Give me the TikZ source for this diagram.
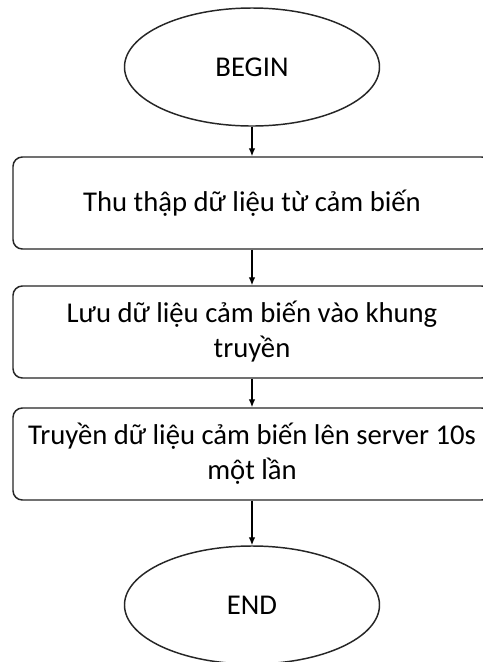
\documentclass[tikz,border=0pt]{standalone}
\usepackage{fontspec}
\setmainfont{Carlito}
\usetikzlibrary{shapes.geometric,arrows.meta}
\begin{document}
\begin{tikzpicture}[x=0.75pt,y=-0.75pt,
  line width=1.1pt,
  term/.style={draw=black!85, ellipse, minimum width=255*0.75pt, minimum height=118*0.75pt, inner sep=0pt},
  proc/.style={draw=black!85, rounded corners=7pt, minimum width=478*0.75pt, minimum height=92*0.75pt, inner sep=0pt, align=center},
  flow/.style={-{Latex[length=6pt,width=5pt]}, line width=1pt},
  font=\fontsize{21.5pt}{26.25pt}\selectfont]
\useasboundingbox (0,0) rectangle (483,662);
\fill[white] (0,0) rectangle (483,662);
\node[term] (begin) at (252,67) {BEGIN};
\node[proc] (collect) at (252,203) {Thu thập dữ liệu từ cảm biến};
\node[proc] (store) at (252,332) {Lưu dữ liệu cảm biến vào khung\\truyền};
\node[proc] (send) at (252,454) {Truyền dữ liệu cảm biến lên server 10s\\một lần};
\node[term] (end) at (252,605) {END};
\draw[flow] (begin) -- (collect);
\draw[flow] (collect) -- (store);
\draw[flow] (store) -- (send);
\draw[flow] (send) -- (end);
\end{tikzpicture}
\end{document}
